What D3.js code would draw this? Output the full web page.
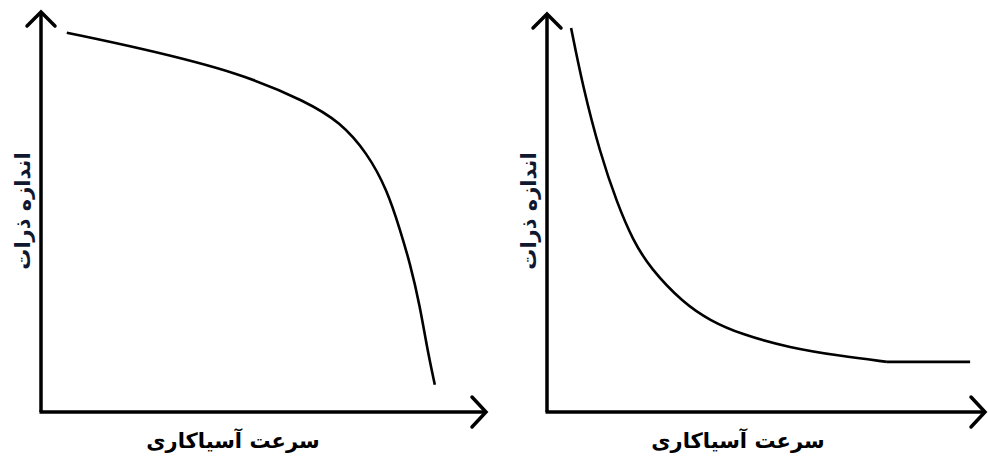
<!DOCTYPE html>
<html><head><meta charset="utf-8">
<script src="https://cdn.jsdelivr.net/npm/d3@7"></script>
<style>html,body{margin:0;padding:0;background:#fff;}svg{display:block;}</style>
</head><body>
<svg id="c" width="988" height="464"></svg>
<script>
// Data (arbitrary units 0-10 on both axes)
const leftX = [0.58, 2.22, 4.47, 5.98, 6.72, 7.33, 7.78, 8.07, 8.29, 8.52, 8.67, 8.85];
const leftY = [9.48, 9.10, 8.48, 7.75, 7.25, 6.48, 5.55, 4.55, 3.73, 2.63, 1.63, 0.68];
const rightX = [0.55, 0.82, 1.21, 1.60, 1.96, 2.35, 3.11, 3.72, 4.41, 5.55, 6.69, 7.76];
const rightY = [9.65, 8.17, 6.51, 5.25, 4.32, 3.62, 2.74, 2.30, 1.96, 1.61, 1.41, 1.26];
const rightFlatX = [7.76, 9.66];
const rightFlatY = [1.26, 1.26];
const xLabel = "سرعت آسیاکاری";
const yLabel = "اندازه ذرات";

const svg = d3.select("#c");

function panel(cfg) {
  const x = d3.scaleLinear().domain([0, 10]).range([cfg.x0, cfg.x1]);
  const y = d3.scaleLinear().domain([0, 10]).range([cfg.y0, cfg.y1]);
  const g = svg.append("g");
  // axes
  g.append("line").attr("x1", x(0)).attr("y1", y(0)).attr("x2", x(0)).attr("y2", y(10) + 1)
    .attr("stroke", "#000").attr("stroke-width", 3.5);
  g.append("line").attr("x1", x(0) - 1.5).attr("y1", y(0)).attr("x2", x(10) - 1).attr("y2", y(0))
    .attr("stroke", "#000").attr("stroke-width", 3.5);
  // arrow heads
  g.append("path").attr("d", `M${x(0)-14},${y(10)+14} L${x(0)},${y(10)} L${x(0)+14},${y(10)+14}`)
    .attr("fill", "none").attr("stroke", "#000").attr("stroke-width", 3.5).attr("stroke-linecap", "round");
  g.append("path").attr("d", `M${x(10)-14},${y(0)-15} L${x(10)},${y(0)} L${x(10)-14},${y(0)+15}`)
    .attr("fill", "none").attr("stroke", "#000").attr("stroke-width", 3.5).attr("stroke-linecap", "round");
  // curves
  const smooth = d3.line().x(d => x(d[0])).y(d => y(d[1])).curve(d3.curveBasis);
  const straight = d3.line().x(d => x(d[0])).y(d => y(d[1]));
  cfg.curves.forEach(c => {
    const pts = c.xs.map((v, i) => [v, c.ys[i]]);
    g.append("path").attr("d", (c.straight ? straight : smooth)(pts))
      .attr("fill", "none").attr("stroke", "#000").attr("stroke-width", 2.6);
  });
  // labels
  g.append("text").attr("x", cfg.xlx).attr("y", 448).attr("text-anchor", "middle")
    .attr("font-family", "DejaVu Sans").attr("font-weight", "bold").attr("font-size", 21)
    .attr("direction", "rtl").attr("fill", "#000").text(xLabel);
  g.append("text").attr("transform", `translate(${cfg.ylx},211) rotate(-90)`).attr("text-anchor", "middle")
    .attr("font-family", "DejaVu Sans").attr("font-weight", "bold").attr("font-size", 21)
    .attr("direction", "rtl").attr("fill", "#101830").text(yLabel);
}

panel({x0: 41, x1: 486, y0: 412, y1: 12, xlx: 233, ylx: 30,
  curves: [{xs: leftX, ys: leftY}]});
panel({x0: 547, x1: 985, y0: 412, y1: 14, xlx: 738, ylx: 536,
  curves: [{xs: rightX, ys: rightY}, {xs: rightFlatX, ys: rightFlatY, straight: true}]});
</script>
</body></html>
